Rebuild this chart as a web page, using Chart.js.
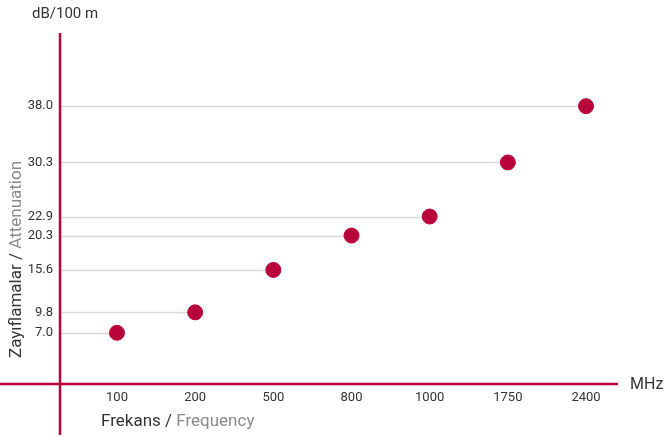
<!DOCTYPE html>
<html>
<head>
<meta charset="utf-8">
<script src="https://cdn.jsdelivr.net/npm/chart.js@4"></script>
<style>
  body { margin: 0; background: #fff; }
  #wrap { width: 664px; height: 437px; }
</style>
</head>
<body>
<div id="wrap"><canvas id="chart"></canvas></div>
<script>
const frequencies = ["100", "200", "500", "800", "1000", "1750", "2400"];
const attenuation = [7.0, 9.8, 15.6, 20.3, 22.9, 30.3, 38.0];
const yTicks = [7.0, 9.8, 15.6, 20.3, 22.9, 30.3, 38.0];

const red = "#b8033b";
const tickFont = { family: "'Roboto', sans-serif", size: 13 };

const decor = {
  id: "decor",
  beforeDatasetsDraw(chart) {
    const ctx = chart.ctx;
    const x = chart.scales.x;
    const y = chart.scales.y;
    const area = chart.chartArea;
    // connector lines from axis to each point
    ctx.save();
    ctx.strokeStyle = "#d9d9d9";
    ctx.lineWidth = 1.5;
    attenuation.forEach(function (v, i) {
      const py = Math.round(y.getPixelForValue(v)) + 0.5;
      ctx.beginPath();
      ctx.moveTo(area.left, py);
      ctx.lineTo(x.getPixelForValue(i), py);
      ctx.stroke();
    });
    // axis lines
    ctx.strokeStyle = red;
    ctx.lineWidth = 2.5;
    const y0 = y.getPixelForValue(0);
    ctx.beginPath();
    ctx.moveTo(0, y0);
    ctx.lineTo(area.right, y0);
    ctx.stroke();
    ctx.beginPath();
    ctx.moveTo(area.left, area.top);
    ctx.lineTo(area.left, chart.height - 2);
    ctx.stroke();
    ctx.restore();
  },
  afterDraw(chart) {
    const ctx = chart.ctx;
    const area = chart.chartArea;
    const y0 = chart.scales.y.getPixelForValue(0);
    ctx.save();
    ctx.textBaseline = "middle";
    ctx.fillStyle = "#333";
    ctx.font = "15px 'Roboto', sans-serif";
    ctx.textAlign = "left";
    ctx.fillText("dB/100 m", 32, 14);
    ctx.font = "16px 'Roboto', sans-serif";
    ctx.fillText("MHz", area.right + 12, y0 + 1);
    // x title
    ctx.font = "17px 'Roboto', sans-serif";
    let tx = 101;
    ctx.fillText("Frekans / ", tx, 422);
    tx += ctx.measureText("Frekans / ").width;
    ctx.fillStyle = "#8a8a8a";
    ctx.fillText("Frequency", tx, 422);
    // y title
    ctx.translate(17, 358);
    ctx.rotate(-Math.PI / 2);
    ctx.fillStyle = "#333";
    ctx.fillText("Zayıflamalar / ", 0, 0);
    const w = ctx.measureText("Zayıflamalar / ").width;
    ctx.fillStyle = "#8a8a8a";
    ctx.fillText("Attenuation", w, 0);
    ctx.restore();
  },
};

new Chart("chart", {
  type: "scatter",
  data: {
    datasets: [
      {
        data: attenuation.map(function (v, i) { return { x: i, y: v }; }),
        backgroundColor: red,
        borderColor: red,
        pointRadius: 7.5,
        pointHoverRadius: 7.5,
      },
    ],
  },
  options: {
    responsive: true,
    maintainAspectRatio: false,
    animation: false,
    layout: { padding: { top: 33, right: 46, left: 0, bottom: 0 } },
    plugins: { legend: { display: false }, tooltip: { enabled: false } },
    scales: {
      x: {
        type: "linear",
        min: -0.729,
        max: 6.409,
        grid: { display: false, drawTicks: false },
        border: { display: false },
        afterBuildTicks(scale) {
          scale.ticks = frequencies.map(function (f, i) { return { value: i }; });
        },
        afterFit(scale) { scale.height = 53; },
        ticks: {
          padding: 6,
          color: "#333",
          font: tickFont,
          maxRotation: 0,
          autoSkip: false,
          callback: function (v) { return frequencies[v]; },
        },
      },
      y: {
        min: 0,
        max: 48,
        grid: { display: false, drawTicks: false },
        border: { display: false },
        afterBuildTicks(scale) {
          scale.ticks = yTicks.map(function (v) { return { value: v }; });
        },
        afterFit(scale) { scale.width = 60; },
        ticks: {
          padding: 7,
          color: "#333",
          font: tickFont,
          autoSkip: false,
          callback: function (v) { return v.toFixed(1); },
        },
      },
    },
  },
  plugins: [decor],
});
</script>
</body>
</html>
